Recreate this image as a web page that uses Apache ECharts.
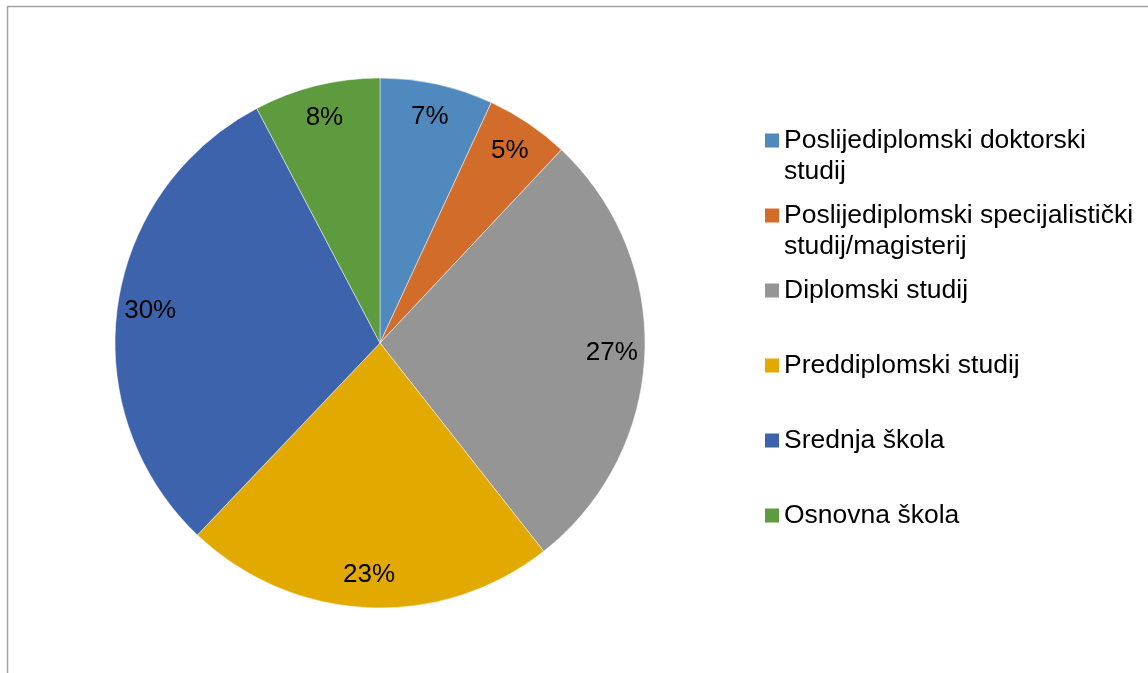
<!DOCTYPE html>
<html>
<head>
<meta charset="utf-8">
<style>
  html, body { margin: 0; padding: 0; background: #fff; }
  #chart { width: 1148px; height: 673px; }
</style>
<script src="https://cdn.jsdelivr.net/npm/echarts@6/dist/echarts.min.js"></script>
</head>
<body>
<div id="chart"></div>
<script>
// kategorije i udjeli (%), očitano sa slike
const categories = [
  'Poslijediplomski doktorski studij',
  'Poslijediplomski specijalistički studij/magisterij',
  'Diplomski studij',
  'Preddiplomski studij',
  'Srednja škola',
  'Osnovna škola'
];
const shares = [6.9, 5.1, 27.4, 22.7, 30.2, 7.7];
// legenda je prelomljena kao u originalu
const legendLabels = [
  'Poslijediplomski doktorski\nstudij',
  'Poslijediplomski specijalistički\nstudij/magisterij',
  'Diplomski studij\n ',
  'Preddiplomski studij\n ',
  'Srednja škola\n ',
  'Osnovna škola\n '
];
const colors = ['#4f89bd', '#d26c2a', '#959595', '#e2a900', '#3e63ad', '#5e9a3e'];

const chart = echarts.init(document.getElementById('chart'));
const pieData = categories.map((name, i) => ({ name: name, value: shares[i] }));

chart.setOption({
  animation: false,
  color: colors,
  textStyle: { fontFamily: 'Liberation Sans, Arial, sans-serif' },
  graphic: [{
    type: 'rect',
    shape: { x: 7.5, y: 6.5, width: 1200, height: 700 },
    style: { fill: 'none', stroke: '#a3a3a3', lineWidth: 1.5 },
    silent: true
  }],
  legend: {
    orient: 'vertical',
    left: 765,
    top: 125,
    padding: 0,
    itemGap: 13,
    itemWidth: 14,
    itemHeight: 45,
    // kvadratić poravnat s prvim redom teksta
    icon: 'path://M0,0L14,0L14,14L0,14ZM0,45',
    itemStyle: { borderWidth: 0 },
    data: categories,
    formatter: function (name) {
      return legendLabels[categories.indexOf(name)];
    },
    textStyle: { fontSize: 26.5, lineHeight: 31, color: '#000' },
    selectedMode: false
  },
  series: [
    {
      type: 'pie',
      center: [380, 343],
      radius: 265,
      startAngle: 90,
      clockwise: true,
      silent: true,
      label: { show: false },
      labelLine: { show: false },
      itemStyle: { borderColor: 'rgba(255,255,255,0.6)', borderWidth: 0.8 },
      emphasis: { disabled: true },
      data: pieData
    },
    {
      // prozirni sloj samo za oznake postotaka blizu ruba
      type: 'pie',
      center: [380, 343],
      radius: 458,
      startAngle: 90,
      clockwise: true,
      silent: true,
      z: 3,
      itemStyle: { color: 'rgba(0,0,0,0)', borderWidth: 0 },
      label: {
        show: true,
        position: 'inside',
        rotate: 0,
        formatter: function (p) { return Math.round(p.value) + '%'; },
        fontSize: 26,
        color: '#000'
      },
      labelLine: { show: false },
      emphasis: { disabled: true },
      data: pieData
    }
  ]
});
</script>
</body>
</html>
